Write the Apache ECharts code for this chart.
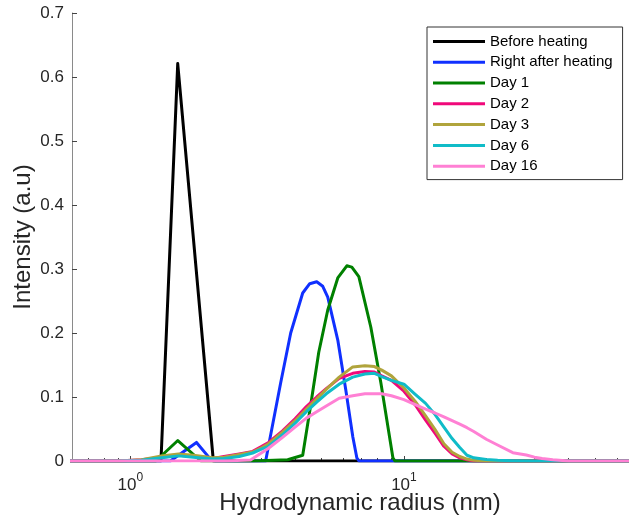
<!DOCTYPE html>
<html><head><meta charset="utf-8">
<script src="https://cdn.jsdelivr.net/npm/echarts@6/dist/echarts.min.js"></script>
<style>html,body{margin:0;padding:0;background:#fff;overflow:hidden}#c{width:629px;height:521px}</style>
</head><body><div id="c"></div>
<script>
// ---- data (x = hydrodynamic radius in nm, y = intensity a.u.) ----
const seriesNames = ['Before heating', 'Right after heating', 'Day 1', 'Day 2', 'Day 3', 'Day 6', 'Day 16'];
const seriesColors = ['#000000', '#1030ff', '#008000', '#f0087a', '#b0a43c', '#10bcc8', '#ff80d4'];

const beforeHeating = [[0.6, 0], [1.294, 0], [1.49, 0.621], [2.011, 0], [80, 0]];

const rightAfterHeating = [[0.6, 0], [1.40, 0], [1.745, 0.029], [1.98, 0.001], [2.05, 0],
  [3.123, 0], [3.543, 0.122], [3.856, 0.200], [4.266, 0.2625], [4.525, 0.277], [4.80, 0.280],
  [5.05, 0.273], [5.267, 0.256], [5.731, 0.189], [6.131, 0.111], [6.505, 0.0375], [6.727, 0.005],
  [6.85, 0], [80, 0]];

const day1 = [[0.6, 0], [1.24, 0], [1.491, 0.032], [1.81, 0], [2.82, 0], [3.759, 0.002],
  [4.266, 0.009], [4.563, 0.0875], [4.883, 0.170], [5.267, 0.236], [5.731, 0.286], [6.184, 0.305],
  [6.45, 0.303], [6.842, 0.288], [7.569, 0.209], [8.238, 0.122], [8.81, 0.044], [9.113, 0.005],
  [9.27, 0], [80, 0]];

const day2 = [[0.6, 0], [0.9, 0], [1.1, 0.002], [1.3, 0.006], [1.5, 0.009], [1.7, 0.007], [2.0, 0.004],
  [2.2, 0.007], [2.5, 0.011], [2.8, 0.015], [3.0, 0.022], [3.2, 0.029], [3.6, 0.047], [4.0, 0.066],
  [4.4, 0.085], [4.8, 0.100], [5.2, 0.113], [5.8, 0.129], [6.5, 0.137], [7.2, 0.140], [7.8, 0.139],
  [8.3, 0.133], [9.0, 0.126], [10, 0.109], [11, 0.0875], [12, 0.064], [13, 0.043], [14, 0.023],
  [15, 0.011], [16, 0.005], [17, 0.002], [18, 0], [80, 0]];

const day3 = [[0.6, 0], [0.9, 0], [1.1, 0.002], [1.3, 0.008], [1.5, 0.011], [1.7, 0.009], [2.0, 0.005],
  [2.2, 0.006], [2.5, 0.010], [2.8, 0.014], [3.0, 0.020], [3.2, 0.027], [3.6, 0.045], [4.0, 0.063],
  [4.4, 0.081], [4.8, 0.097], [5.2, 0.112], [5.8, 0.131], [6.5, 0.147], [7.2, 0.149], [7.8, 0.1475],
  [8.3, 0.142], [9.0, 0.133], [10, 0.114], [11, 0.093], [12, 0.0705], [13, 0.049], [14, 0.027],
  [15, 0.0137], [16, 0.007], [17, 0.003], [18, 0.001], [20, 0], [80, 0]];

const day6 = [[0.6, 0], [0.9, 0], [1.1, 0.001], [1.3, 0.005], [1.5, 0.008], [1.7, 0.006], [2.0, 0.003],
  [2.2, 0.004], [2.5, 0.007], [2.8, 0.0125], [3.0, 0.018], [3.2, 0.023], [3.6, 0.041], [4.0, 0.059],
  [4.4, 0.077], [4.8, 0.092], [5.2, 0.105], [5.8, 0.120], [6.5, 0.131], [7.2, 0.136], [7.8, 0.137],
  [8.3, 0.132], [9.0, 0.126], [10, 0.120], [11, 0.104], [12, 0.090], [13, 0.0725], [14, 0.053],
  [15, 0.035], [16, 0.021], [17, 0.009], [18, 0.005], [20, 0.0025], [22, 0.001], [25, 0.0005],
  [30, 0], [80, 0]];

const day16 = [[0.6, 0], [2.2, 0], [2.75, 0.0015], [3.0, 0.012], [3.2, 0.020], [3.6, 0.037], [4.0, 0.053],
  [4.4, 0.067], [4.8, 0.077], [5.2, 0.086], [5.8, 0.098], [6.5, 0.102], [7.2, 0.105], [7.8, 0.105],
  [8.3, 0.105], [9.0, 0.102], [10, 0.096], [11, 0.088], [12, 0.081], [13, 0.075], [14, 0.069],
  [15, 0.063], [16, 0.0575], [17, 0.052], [18, 0.046], [20, 0.034], [22, 0.025], [25, 0.013],
  [28, 0.0094], [30, 0.006], [32, 0.004], [35, 0.002], [40, 0], [80, 0]];

const allSeries = [beforeHeating, rightAfterHeating, day1, day2, day3, day6, day16];

const xMajorTicks = [1, 10];
const xMinorTicks = [0.7, 0.8, 0.9, 2, 3, 4, 5, 6, 7, 8, 9, 20, 30, 40, 50, 60, 70];
const xMin = 0.612, xMax = 78;
const yMin = 0, yMax = 0.7, yStep = 0.1;

// ---- chart ----
const FONT = '"Liberation Sans", Arial, Helvetica, sans-serif';
const axisGray = '#8a8a8a';
const textCol = '#262626';
const chart = echarts.init(document.getElementById('c'), null, {renderer: 'canvas'});

const option = {
  animation: false,
  backgroundColor: '#ffffff',
  textStyle: {fontFamily: FONT},
  grid: {left: 72, right: -19, top: 13, bottom: 60, containLabel: false, outerBoundsMode: 'none'},
  legend: {
    orient: 'vertical', left: 427, top: 27,
    padding: [4, 10, 3, 6],
    icon: 'rect',
    itemWidth: 52, itemHeight: 3, itemGap: 0, itemTextGap: 5,
    backgroundColor: '#ffffff', borderColor: '#333333', borderWidth: 1, borderRadius: 0,
    textStyle: {fontSize: 15, lineHeight: 20.8, color: '#000000', fontFamily: FONT},
    data: seriesNames
  },
  xAxis: [{
    type: 'log', logBase: 10, min: xMin, max: xMax, gridIndex: 0, position: 'bottom',
    axisLine: {show: true, onZero: false, lineStyle: {color: axisGray, width: 1}},
    axisTick: {show: true, inside: true, length: 5, customValues: xMajorTicks, lineStyle: {color: '#444'}},
    axisLabel: {
      customValues: xMajorTicks, margin: 11, color: textCol,
      formatter: function (v) {
        const e = Math.round(Math.log10(v));
        if (Math.abs(Math.log10(v) - e) > 1e-6) return '';
        return '{b|10}{s|' + e + '}';
      },
      rich: {
        b: {fontSize: 17, color: textCol, fontFamily: FONT, lineHeight: 22, verticalAlign: 'bottom'},
        s: {fontSize: 12, color: textCol, fontFamily: FONT, verticalAlign: 'top', lineHeight: 14}
      }
    },
    splitLine: {show: false},
    name: 'Hydrodynamic radius (nm)', nameLocation: 'middle', nameGap: 30, nameMoveOverlap: false,
    nameTextStyle: {fontSize: 24, color: textCol, fontFamily: FONT}
  }, {
    type: 'log', logBase: 10, min: xMin, max: xMax, gridIndex: 0, position: 'bottom',
    axisLine: {show: false, onZero: false},
    axisTick: {show: true, inside: true, length: 3, customValues: xMinorTicks, lineStyle: {color: '#444'}},
    axisLabel: {show: false},
    splitLine: {show: false}
  }],
  yAxis: {
    type: 'value', min: yMin, max: yMax, interval: yStep,
    axisLine: {show: true, lineStyle: {color: axisGray, width: 1}},
    axisTick: {show: true, inside: true, length: 5, lineStyle: {color: '#444'}},
    axisLabel: {fontSize: 17, color: textCol, margin: 8, fontFamily: FONT},
    splitLine: {show: false},
    name: 'Intensity (a.u)', nameLocation: 'middle', nameGap: 37, nameMoveOverlap: false,
    nameTextStyle: {fontSize: 24, color: textCol, fontFamily: FONT}
  },
  series: allSeries.map(function (d, i) {
    return {
      name: seriesNames[i], type: 'line', xAxisIndex: 0, data: d,
      symbol: 'none', showSymbol: false, smooth: false, clip: true,
      color: seriesColors[i],
      lineStyle: {width: 3, color: seriesColors[i], join: 'round', cap: 'round'},
      z: 2 + i
    };
  })
};
chart.setOption(option);
</script>
</body></html>
